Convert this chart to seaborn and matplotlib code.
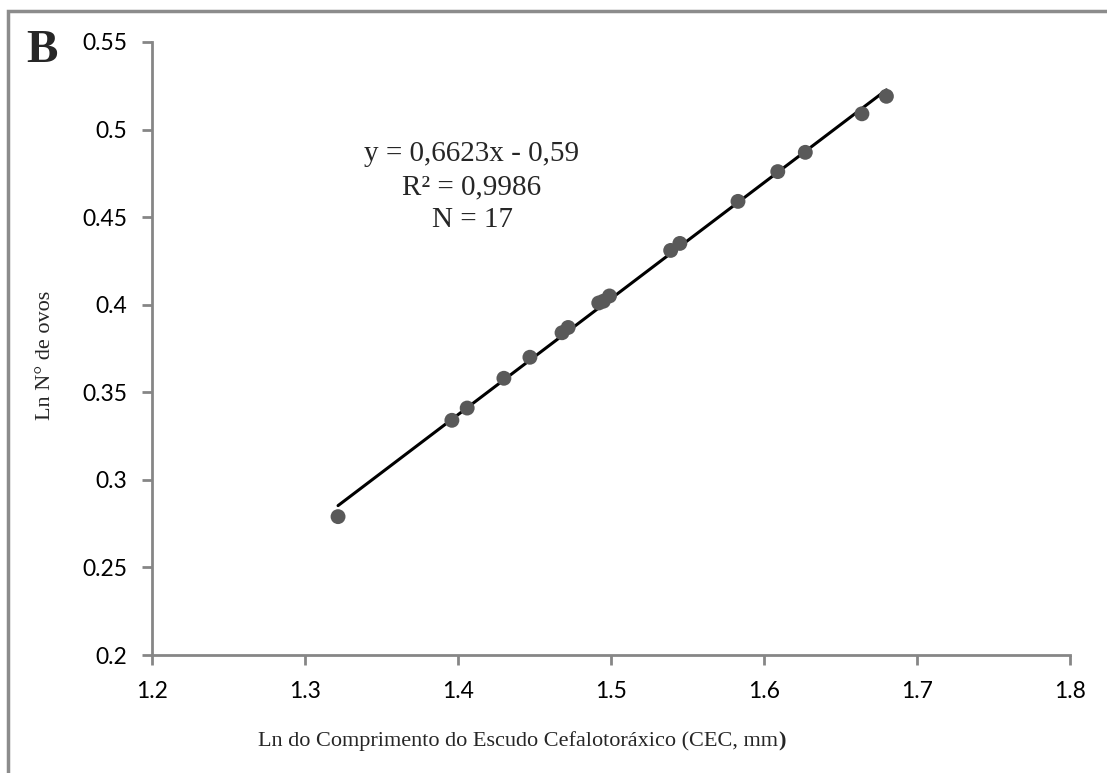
import numpy as np
import pandas as pd
import matplotlib
matplotlib.use('Agg')
import matplotlib.pyplot as plt
import seaborn as sns
from matplotlib.patches import Rectangle

# dados (Ln CEC vs Ln N° de ovos)
ln_cec = [1.3216, 1.396, 1.406, 1.430, 1.447, 1.468, 1.472, 1.492, 1.495, 1.499,
          1.539, 1.545, 1.583, 1.609, 1.627, 1.664, 1.680]
ln_ovos = [0.279, 0.334, 0.341, 0.358, 0.370, 0.384, 0.387, 0.401, 0.402, 0.405,
           0.431, 0.435, 0.459, 0.476, 0.487, 0.509, 0.519]
slope, intercept = 0.6623, -0.59
x_ticks = [1.2, 1.3, 1.4, 1.5, 1.6, 1.7, 1.8]
y_ticks = [0.2, 0.25, 0.3, 0.35, 0.4, 0.45, 0.5, 0.55]

df = pd.DataFrame({'x': ln_cec, 'y': ln_ovos})
x_fit = np.array([df['x'].min(), df['x'].max()])
fit = pd.DataFrame({'x': x_fit, 'y': slope * x_fit + intercept})

sns.set_style('white')
grey = '#868686'
W, H = 1107, 773

fig = plt.figure(figsize=(11.07, 7.73), dpi=100)
ax = fig.add_axes([152/W, 1 - 655/H, (1070-152)/W, (655-42)/H])

# moldura externa (cortada à direita e em baixo)
fig.patches.append(Rectangle((8/W, -0.1), 1.2, 1 - 11/H + 0.1, transform=fig.transFigure,
                             fill=False, edgecolor='#8c8c8c', linewidth=2.5, zorder=0))

sns.lineplot(data=fit, x='x', y='y', color='black', linewidth=2.2, ax=ax, zorder=2)
sns.scatterplot(data=df, x='x', y='y', color='#595959', s=115, edgecolor='none', ax=ax, zorder=3)

ax.set_xlim(1.2, 1.8)
ax.set_ylim(0.2, 0.55)
ax.set_xticks(x_ticks)
ax.set_yticks(y_ticks)
ax.set_xticklabels([f'{v:g}' for v in x_ticks], family='Lato', fontsize=16.5)
ax.set_yticklabels([f'{v:g}' for v in y_ticks], family='Lato', fontsize=16.5)
for s in ['top', 'right']:
    ax.spines[s].set_visible(False)
for s in ['left', 'bottom']:
    ax.spines[s].set_color(grey)
    ax.spines[s].set_linewidth(2)
ax.tick_params(axis='both', direction='out', length=7, width=2, color=grey, colors='black',
               left=True, bottom=True)
ax.tick_params(axis='x', pad=12)
ax.tick_params(axis='y', pad=11)
ax.set_xlabel('')
ax.set_ylabel('')

# títulos dos eixos (o ")" final está em negrito no original)
t1 = fig.text(258/W, 1 - 741/H, 'Ln do Comprimento do Escudo Cefalotoráxico (CEC, mm',
              family='Liberation Serif', fontsize=16, ha='left', va='center')
fig.canvas.draw()
bb = t1.get_window_extent()
fig.text(bb.x1 / W, 1 - 741/H, ')', family='Liberation Serif', fontsize=16,
         fontweight='bold', ha='left', va='center')
fig.text(45/W, 1 - 355/H, 'Ln N° de ovos', family='Liberation Serif', fontsize=16,
         rotation=90, ha='center', va='center')

fig.text(472/W, 1 - 187/H, 'y = 0,6623x - 0,59\nR² = 0,9986\nN = 17',
         family='Liberation Serif', fontsize=21, ha='center', va='center', linespacing=1.33)

fig.text(26/W, 1 - 51/H, 'B', family='Liberation Serif', fontsize=34,
         fontweight='bold', ha='left', va='center')

fig.savefig('out.png', dpi=100)
